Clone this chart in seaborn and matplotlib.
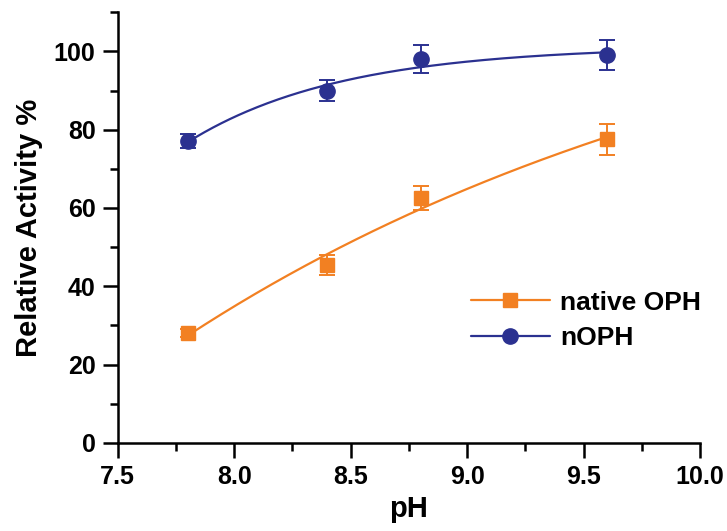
import numpy as np
import pandas as pd
import matplotlib
matplotlib.use("Agg")
import matplotlib.pyplot as plt
from matplotlib.lines import Line2D
from matplotlib.ticker import MultipleLocator, FormatStrFormatter
import seaborn as sns

# values
ph = [7.8, 8.4, 8.8, 9.6]
native_activity = [28.0, 45.5, 62.5, 77.5]
native_err = [1.0, 2.5, 3.0, 4.0]
nophs_activity = [77.0, 90.0, 98.0, 99.0]
nophs_err = [1.8, 2.8, 3.5, 3.8]

series_names = ["native OPH", "nOPH"]
colors = {"native OPH": "#F28022", "nOPH": "#2B3190"}
markers = {"native OPH": "s", "nOPH": "o"}

df = pd.concat([
    pd.DataFrame({"pH": ph, "activity": native_activity, "err": native_err, "series": "native OPH"}),
    pd.DataFrame({"pH": ph, "activity": nophs_activity, "err": nophs_err, "series": "nOPH"}),
])


def saturating_fit(x, y, n=200):
    # least squares fit of y = a - b*exp(-k*x), k by grid search
    x = np.asarray(x, float)
    y = np.asarray(y, float)
    best = None
    for k in np.linspace(0.05, 4.0, 400):
        design = np.column_stack([np.ones_like(x), -np.exp(-k * (x - x[0]))])
        coef, *_ = np.linalg.lstsq(design, y, rcond=None)
        sse = np.sum((design @ coef - y) ** 2)
        if best is None or sse < best[0]:
            best = (sse, k, coef)
    _, k, coef = best
    xs = np.linspace(x.min(), x.max(), n)
    return xs, coef[0] - coef[1] * np.exp(-k * (xs - x[0]))


sns.set_style("ticks")
plt.rcParams["font.family"] = ["Liberation Sans", "DejaVu Sans"]
plt.rcParams["font.weight"] = "bold"
plt.rcParams["text.color"] = "black"
plt.rcParams["axes.labelcolor"] = "black"
plt.rcParams["xtick.color"] = "black"
plt.rcParams["ytick.color"] = "black"
plt.rcParams["axes.edgecolor"] = "black"

fig = plt.figure(figsize=(7.27, 5.31), dpi=100)
ax = fig.add_axes([0.162, 0.166, 0.801, 0.811])

for name in series_names:
    sub = df[df["series"] == name]
    c = colors[name]
    xs, ys = saturating_fit(sub["pH"], sub["activity"])
    sns.lineplot(x=xs, y=ys, color=c, lw=1.6, ax=ax)
    ax.errorbar(sub["pH"], sub["activity"], yerr=sub["err"], fmt=markers[name],
                color=c, ms=11 if markers[name] == "o" else 10, capsize=6,
                capthick=1.4, elinewidth=1.4, zorder=3)

ax.set_xlim(7.5, 10.0)
ax.set_ylim(0, 110)
ax.xaxis.set_major_locator(MultipleLocator(0.5))
ax.xaxis.set_minor_locator(MultipleLocator(0.25))
ax.xaxis.set_major_formatter(FormatStrFormatter("%.1f"))
ax.set_yticks([0, 20, 40, 60, 80, 100])
ax.yaxis.set_minor_locator(MultipleLocator(10))

for side in ["top", "right"]:
    ax.spines[side].set_visible(False)
for side in ["left", "bottom"]:
    ax.spines[side].set_linewidth(1.8)
ax.tick_params(which="major", length=11, width=1.8, direction="out", labelsize=18, pad=5)
ax.tick_params(which="minor", length=6, width=1.8, direction="out")
for lbl in ax.get_xticklabels() + ax.get_yticklabels():
    lbl.set_fontweight("bold")

ax.set_xlabel("pH", fontsize=21, fontweight="bold", labelpad=4)
ax.set_ylabel("Relative Activity %", fontsize=21, fontweight="bold", labelpad=8)

handles = [Line2D([], [], color=colors[n], marker=markers[n],
                  ms=11 if markers[n] == "o" else 10, lw=1.6) for n in series_names]
ax.legend(handles, series_names, loc="lower right", bbox_to_anchor=(1.02, 0.19),
          frameon=False, prop={"size": 19, "weight": "bold"}, handlelength=3.0,
          handletextpad=0.4, labelspacing=0.45, borderaxespad=0)

fig.savefig("out.png", dpi=100)
